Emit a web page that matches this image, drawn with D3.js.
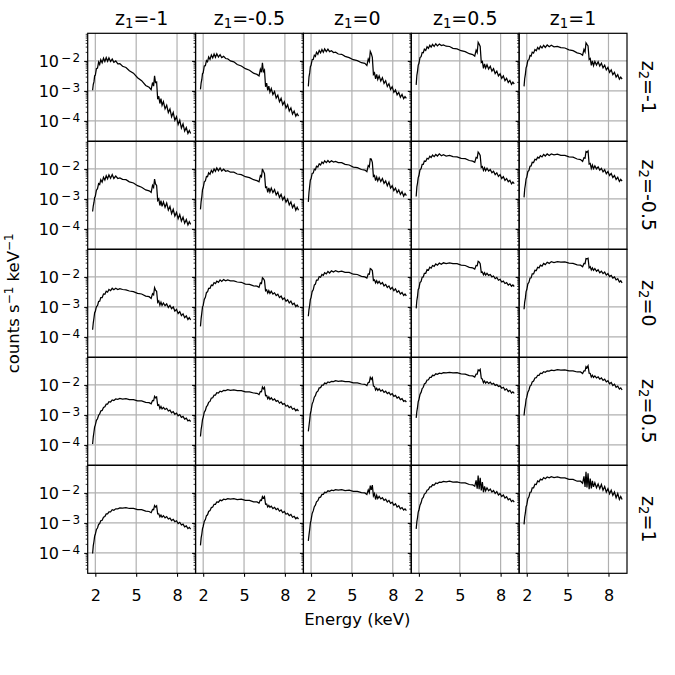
<!DOCTYPE html>
<html>
<head>
<meta charset="utf-8">
<script src="https://cdn.jsdelivr.net/npm/d3@7"></script>
<style>
  body { margin: 0; background: #fff; }
  text { font-family: "DejaVu Sans", sans-serif; fill: #000; }
</style>
</head>
<body>
<div id="chart"></div>
<script>
// energy grid (keV) shared by every spectrum
const energy = [1.80,1.85,1.90,1.95,2.00,2.08,2.16,2.24,2.32,2.40,2.50,2.60,2.70,2.80,2.90,3.00,3.12,3.24,3.36,3.50,
  3.65,3.80,4.00,4.25,4.50,4.80,5.10,5.40,5.70,5.95,6.10,6.20,6.28,6.35,6.42,6.50,6.58,6.66,6.74,6.82,
  6.90,7.00,7.12,7.24,7.36,7.48,7.60,7.72,7.84,7.96,8.08,8.20,8.32,8.44,8.56,8.68,8.80,8.90,9.00];

const z1Labels = ["-1", "-0.5", "0", "0.5", "1"];
const z2Labels = ["-1", "-0.5", "0", "0.5", "1"];
const xTicks = [2, 5, 8];

// log10(counts s^-1 keV^-1), row = z2, col = z1
const logFlux_r0c0 = [-2.98,-2.78,-2.70,-2.50,-2.48,-2.26,-2.24,-2.04,-2.12,-1.96,-2.06,-1.91,-2.02,-1.89,-2.01,-1.90,-2.02,-1.94,-2.05,-2.00,-2.10,-2.09,-2.18,-2.22,-2.33,-2.41,-2.56,-2.66,-2.82,-2.88,-2.96,-2.72,-2.84,-2.50,-2.72,-2.70,-3.28,-3.18,-3.42,-3.26,-3.48,-3.36,-3.60,-3.48,-3.72,-3.60,-3.86,-3.72,-3.98,-3.86,-4.12,-3.98,-4.24,-4.10,-4.34,-4.22,-4.42,-4.32,-4.42];
const logFlux_r0c1 = [-2.95,-2.73,-2.62,-2.42,-2.40,-2.17,-2.16,-1.99,-2.03,-1.87,-1.95,-1.80,-1.90,-1.77,-1.88,-1.76,-1.87,-1.79,-1.89,-1.85,-1.92,-1.93,-2.00,-2.03,-2.12,-2.17,-2.26,-2.31,-2.41,-2.45,-2.50,-2.28,-2.38,-2.06,-2.36,-2.30,-2.86,-2.74,-2.98,-2.84,-3.04,-2.92,-3.12,-3.02,-3.24,-3.14,-3.36,-3.25,-3.46,-3.36,-3.57,-3.46,-3.67,-3.57,-3.77,-3.67,-3.84,-3.76,-3.84];
const logFlux_r0c2 = [-2.85,-2.53,-2.40,-2.19,-2.15,-1.96,-1.95,-1.81,-1.85,-1.71,-1.78,-1.65,-1.73,-1.62,-1.71,-1.60,-1.69,-1.61,-1.69,-1.66,-1.72,-1.71,-1.77,-1.78,-1.85,-1.89,-1.96,-1.99,-2.06,-2.08,-2.15,-1.94,-2.02,-1.68,-1.75,-1.88,-2.45,-2.40,-2.60,-2.45,-2.62,-2.50,-2.67,-2.56,-2.75,-2.66,-2.85,-2.76,-2.95,-2.86,-3.05,-2.97,-3.13,-3.05,-3.21,-3.12,-3.26,-3.19,-3.25];
const logFlux_r0c3 = [-2.80,-2.48,-2.34,-2.14,-2.09,-1.89,-1.86,-1.72,-1.73,-1.61,-1.65,-1.53,-1.58,-1.48,-1.54,-1.45,-1.52,-1.43,-1.50,-1.44,-1.49,-1.47,-1.51,-1.52,-1.58,-1.60,-1.66,-1.69,-1.76,-1.79,-1.84,-1.64,-1.72,-1.38,-1.44,-1.52,-2.05,-2.02,-2.25,-2.10,-2.24,-2.13,-2.27,-2.18,-2.34,-2.26,-2.42,-2.34,-2.50,-2.43,-2.58,-2.50,-2.66,-2.58,-2.72,-2.65,-2.78,-2.71,-2.77];
const logFlux_r0c4 = [-2.85,-2.58,-2.44,-2.23,-2.17,-1.98,-1.96,-1.82,-1.84,-1.71,-1.74,-1.62,-1.66,-1.55,-1.61,-1.51,-1.57,-1.48,-1.55,-1.47,-1.53,-1.48,-1.53,-1.52,-1.56,-1.57,-1.63,-1.66,-1.73,-1.76,-1.81,-1.62,-1.70,-1.40,-1.45,-1.50,-1.95,-1.92,-2.15,-2.00,-2.16,-2.02,-2.14,-2.03,-2.17,-2.08,-2.23,-2.14,-2.30,-2.22,-2.38,-2.30,-2.46,-2.38,-2.54,-2.46,-2.61,-2.54,-2.61];

const logFlux_r1c0 = [-3.42,-3.23,-3.12,-2.95,-2.91,-2.71,-2.66,-2.49,-2.52,-2.36,-2.44,-2.28,-2.37,-2.23,-2.33,-2.20,-2.31,-2.19,-2.32,-2.24,-2.32,-2.30,-2.35,-2.36,-2.43,-2.47,-2.56,-2.61,-2.70,-2.73,-2.78,-2.55,-2.62,-2.34,-2.50,-2.55,-3.05,-3.00,-3.22,-3.06,-3.25,-3.10,-3.28,-3.14,-3.37,-3.25,-3.49,-3.35,-3.57,-3.45,-3.66,-3.52,-3.74,-3.61,-3.81,-3.69,-3.87,-3.76,-3.85];
const logFlux_r1c1 = [-3.35,-3.08,-2.93,-2.69,-2.63,-2.43,-2.40,-2.25,-2.26,-2.13,-2.18,-2.05,-2.12,-2.00,-2.08,-1.97,-2.06,-1.97,-2.07,-2.01,-2.08,-2.06,-2.11,-2.11,-2.17,-2.19,-2.26,-2.29,-2.36,-2.39,-2.43,-2.22,-2.26,-2.00,-2.08,-2.15,-2.62,-2.60,-2.78,-2.63,-2.77,-2.64,-2.79,-2.69,-2.87,-2.77,-2.95,-2.85,-3.03,-2.93,-3.11,-3.01,-3.20,-3.10,-3.29,-3.19,-3.38,-3.28,-3.38];
const logFlux_r1c2 = [-3.10,-2.78,-2.57,-2.37,-2.33,-2.15,-2.14,-2.01,-2.03,-1.91,-1.94,-1.83,-1.87,-1.77,-1.82,-1.73,-1.79,-1.72,-1.78,-1.73,-1.77,-1.75,-1.79,-1.79,-1.85,-1.87,-1.94,-1.96,-2.02,-2.04,-2.09,-1.89,-1.93,-1.66,-1.67,-1.78,-2.25,-2.22,-2.39,-2.27,-2.40,-2.29,-2.42,-2.32,-2.48,-2.40,-2.56,-2.44,-2.64,-2.56,-2.72,-2.64,-2.79,-2.70,-2.85,-2.76,-2.91,-2.82,-2.89];
const logFlux_r1c3 = [-2.92,-2.60,-2.47,-2.29,-2.23,-2.03,-1.99,-1.85,-1.85,-1.74,-1.75,-1.65,-1.67,-1.58,-1.62,-1.54,-1.59,-1.52,-1.57,-1.50,-1.56,-1.53,-1.57,-1.55,-1.59,-1.60,-1.65,-1.66,-1.72,-1.74,-1.78,-1.62,-1.64,-1.44,-1.48,-1.55,-1.95,-1.92,-2.05,-1.96,-2.06,-1.98,-2.07,-2.02,-2.13,-2.08,-2.19,-2.13,-2.25,-2.19,-2.32,-2.26,-2.38,-2.32,-2.43,-2.38,-2.50,-2.44,-2.49];
const logFlux_r1c4 = [-2.95,-2.66,-2.52,-2.33,-2.28,-2.09,-2.05,-1.91,-1.90,-1.78,-1.79,-1.68,-1.70,-1.61,-1.64,-1.56,-1.60,-1.52,-1.57,-1.50,-1.55,-1.50,-1.53,-1.51,-1.55,-1.55,-1.60,-1.61,-1.67,-1.69,-1.75,-1.63,-1.64,-1.42,-1.44,-1.40,-1.84,-1.82,-1.98,-1.87,-1.99,-1.90,-2.00,-1.93,-2.04,-1.98,-2.10,-2.03,-2.16,-2.09,-2.22,-2.15,-2.29,-2.22,-2.35,-2.28,-2.42,-2.35,-2.41];

const logFlux_r2c0 = [-3.76,-3.53,-3.37,-3.19,-3.15,-2.99,-2.96,-2.82,-2.81,-2.69,-2.69,-2.57,-2.58,-2.48,-2.51,-2.42,-2.46,-2.38,-2.43,-2.38,-2.42,-2.39,-2.42,-2.43,-2.47,-2.49,-2.55,-2.57,-2.64,-2.66,-2.72,-2.56,-2.60,-2.36,-2.44,-2.48,-2.85,-2.80,-2.94,-2.84,-2.95,-2.87,-2.96,-2.90,-3.02,-2.95,-3.06,-3.00,-3.14,-3.08,-3.22,-3.16,-3.29,-3.23,-3.36,-3.30,-3.42,-3.36,-3.43];
const logFlux_r2c1 = [-3.65,-3.38,-3.20,-3.00,-2.95,-2.75,-2.68,-2.52,-2.50,-2.38,-2.38,-2.27,-2.29,-2.19,-2.22,-2.14,-2.18,-2.10,-2.15,-2.09,-2.13,-2.10,-2.13,-2.13,-2.17,-2.18,-2.24,-2.25,-2.30,-2.31,-2.35,-2.20,-2.22,-2.03,-2.06,-2.12,-2.46,-2.43,-2.54,-2.46,-2.55,-2.48,-2.57,-2.53,-2.62,-2.58,-2.69,-2.64,-2.75,-2.70,-2.81,-2.76,-2.87,-2.81,-2.92,-2.88,-2.99,-2.94,-3.01];
const logFlux_r2c2 = [-3.31,-3.08,-2.94,-2.75,-2.69,-2.49,-2.43,-2.27,-2.24,-2.11,-2.11,-1.99,-2.01,-1.92,-1.95,-1.86,-1.90,-1.82,-1.87,-1.80,-1.84,-1.79,-1.83,-1.81,-1.85,-1.85,-1.91,-1.92,-1.98,-2.00,-2.04,-1.90,-1.91,-1.72,-1.74,-1.79,-2.12,-2.10,-2.20,-2.13,-2.21,-2.15,-2.24,-2.19,-2.30,-2.25,-2.35,-2.30,-2.41,-2.35,-2.46,-2.40,-2.51,-2.46,-2.57,-2.52,-2.62,-2.57,-2.63];
const logFlux_r2c3 = [-3.05,-2.78,-2.64,-2.42,-2.38,-2.19,-2.15,-2.01,-2.00,-1.88,-1.88,-1.76,-1.78,-1.68,-1.71,-1.62,-1.65,-1.57,-1.61,-1.54,-1.58,-1.53,-1.56,-1.53,-1.56,-1.56,-1.61,-1.62,-1.68,-1.70,-1.74,-1.62,-1.63,-1.48,-1.50,-1.56,-1.85,-1.84,-1.93,-1.86,-1.94,-1.88,-1.95,-1.92,-2.00,-1.97,-2.06,-2.02,-2.11,-2.08,-2.17,-2.14,-2.22,-2.19,-2.27,-2.23,-2.31,-2.27,-2.32];
const logFlux_r2c4 = [-3.08,-2.83,-2.70,-2.49,-2.43,-2.23,-2.18,-2.04,-2.03,-1.90,-1.90,-1.78,-1.79,-1.68,-1.70,-1.61,-1.64,-1.55,-1.59,-1.51,-1.55,-1.49,-1.52,-1.49,-1.51,-1.50,-1.54,-1.55,-1.60,-1.61,-1.66,-1.55,-1.56,-1.39,-1.40,-1.38,-1.70,-1.66,-1.77,-1.70,-1.78,-1.72,-1.81,-1.76,-1.86,-1.81,-1.89,-1.84,-1.94,-1.89,-1.99,-1.95,-2.04,-2.00,-2.10,-2.06,-2.17,-2.13,-2.20];

const logFlux_r3c0 = [-3.97,-3.73,-3.57,-3.40,-3.34,-3.18,-3.13,-3.01,-2.97,-2.87,-2.85,-2.75,-2.73,-2.64,-2.64,-2.56,-2.57,-2.50,-2.52,-2.47,-2.48,-2.45,-2.47,-2.46,-2.49,-2.49,-2.53,-2.53,-2.58,-2.59,-2.63,-2.52,-2.53,-2.38,-2.43,-2.40,-2.68,-2.66,-2.79,-2.72,-2.80,-2.75,-2.82,-2.78,-2.87,-2.84,-2.93,-2.89,-2.98,-2.94,-3.03,-2.99,-3.08,-3.05,-3.14,-3.11,-3.20,-3.17,-3.22];
const logFlux_r3c1 = [-3.72,-3.48,-3.34,-3.16,-3.08,-2.91,-2.85,-2.72,-2.68,-2.58,-2.55,-2.44,-2.43,-2.34,-2.34,-2.26,-2.27,-2.21,-2.23,-2.18,-2.19,-2.16,-2.18,-2.17,-2.19,-2.19,-2.23,-2.23,-2.27,-2.28,-2.32,-2.22,-2.23,-2.07,-2.13,-2.08,-2.36,-2.35,-2.46,-2.40,-2.48,-2.43,-2.51,-2.47,-2.55,-2.52,-2.61,-2.57,-2.65,-2.62,-2.71,-2.68,-2.76,-2.72,-2.81,-2.78,-2.86,-2.82,-2.87];
const logFlux_r3c2 = [-3.55,-3.36,-3.17,-2.96,-2.86,-2.64,-2.55,-2.41,-2.36,-2.25,-2.21,-2.10,-2.09,-2.01,-2.01,-1.94,-1.96,-1.90,-1.92,-1.88,-1.89,-1.86,-1.88,-1.87,-1.89,-1.89,-1.93,-1.93,-1.97,-1.98,-2.02,-1.92,-1.91,-1.75,-1.81,-1.76,-2.04,-2.05,-2.17,-2.11,-2.18,-2.13,-2.21,-2.17,-2.25,-2.21,-2.29,-2.25,-2.33,-2.29,-2.38,-2.35,-2.44,-2.40,-2.49,-2.46,-2.55,-2.52,-2.57];
const logFlux_r3c3 = [-3.10,-2.88,-2.74,-2.56,-2.49,-2.32,-2.25,-2.12,-2.08,-1.97,-1.94,-1.84,-1.83,-1.75,-1.75,-1.68,-1.69,-1.63,-1.65,-1.61,-1.62,-1.59,-1.60,-1.58,-1.60,-1.59,-1.63,-1.64,-1.69,-1.70,-1.74,-1.64,-1.64,-1.50,-1.53,-1.48,-1.78,-1.81,-1.93,-1.87,-1.94,-1.89,-1.95,-1.91,-1.98,-1.95,-2.02,-1.99,-2.05,-2.03,-2.11,-2.08,-2.17,-2.13,-2.22,-2.18,-2.27,-2.23,-2.28];
const logFlux_r3c4 = [-3.02,-2.80,-2.67,-2.48,-2.41,-2.24,-2.17,-2.04,-2.01,-1.90,-1.87,-1.77,-1.76,-1.68,-1.68,-1.61,-1.62,-1.56,-1.58,-1.53,-1.54,-1.51,-1.52,-1.49,-1.51,-1.50,-1.53,-1.53,-1.57,-1.57,-1.62,-1.53,-1.53,-1.39,-1.43,-1.36,-1.61,-1.62,-1.74,-1.68,-1.75,-1.70,-1.77,-1.73,-1.81,-1.77,-1.85,-1.81,-1.90,-1.86,-1.96,-1.92,-2.02,-1.98,-2.08,-2.04,-2.14,-2.10,-2.17];

const logFlux_r4c0 = [-4.02,-3.76,-3.62,-3.44,-3.38,-3.22,-3.17,-3.05,-3.02,-2.93,-2.91,-2.81,-2.79,-2.70,-2.70,-2.63,-2.63,-2.56,-2.58,-2.53,-2.53,-2.50,-2.51,-2.49,-2.52,-2.52,-2.56,-2.56,-2.61,-2.62,-2.66,-2.55,-2.56,-2.42,-2.47,-2.43,-2.70,-2.70,-2.80,-2.74,-2.81,-2.76,-2.83,-2.79,-2.87,-2.84,-2.92,-2.88,-2.96,-2.93,-3.02,-2.98,-3.07,-3.04,-3.13,-3.10,-3.19,-3.15,-3.21];
const logFlux_r4c1 = [-3.75,-3.50,-3.37,-3.19,-3.12,-2.95,-2.89,-2.76,-2.73,-2.62,-2.59,-2.49,-2.47,-2.38,-2.38,-2.30,-2.31,-2.24,-2.26,-2.21,-2.22,-2.19,-2.21,-2.19,-2.22,-2.21,-2.25,-2.25,-2.30,-2.30,-2.34,-2.24,-2.25,-2.12,-2.17,-2.12,-2.38,-2.37,-2.47,-2.42,-2.48,-2.44,-2.52,-2.48,-2.56,-2.52,-2.61,-2.57,-2.66,-2.62,-2.71,-2.68,-2.76,-2.72,-2.81,-2.78,-2.86,-2.82,-2.87];
const logFlux_r4c2 = [-3.60,-3.40,-3.22,-3.01,-2.91,-2.69,-2.60,-2.46,-2.41,-2.30,-2.26,-2.15,-2.14,-2.05,-2.05,-1.98,-1.99,-1.93,-1.95,-1.91,-1.92,-1.89,-1.91,-1.89,-1.92,-1.91,-1.95,-1.95,-1.99,-2.00,-2.05,-1.90,-1.99,-1.76,-1.90,-1.74,-2.10,-2.02,-2.22,-2.08,-2.19,-2.12,-2.20,-2.16,-2.25,-2.21,-2.30,-2.25,-2.35,-2.31,-2.41,-2.36,-2.47,-2.43,-2.53,-2.49,-2.57,-2.53,-2.59];
const logFlux_r4c3 = [-3.20,-2.96,-2.82,-2.64,-2.58,-2.41,-2.33,-2.19,-2.15,-2.04,-2.01,-1.91,-1.89,-1.80,-1.80,-1.73,-1.74,-1.67,-1.69,-1.64,-1.65,-1.62,-1.63,-1.61,-1.64,-1.63,-1.67,-1.67,-1.72,-1.73,-1.78,-1.58,-1.86,-1.42,-1.88,-1.50,-1.92,-1.64,-1.98,-1.78,-1.93,-1.83,-1.93,-1.87,-1.97,-1.92,-2.02,-1.96,-2.07,-2.02,-2.12,-2.07,-2.17,-2.13,-2.23,-2.19,-2.29,-2.25,-2.31];
const logFlux_r4c4 = [-3.05,-2.80,-2.66,-2.46,-2.40,-2.19,-2.13,-1.98,-1.97,-1.83,-1.83,-1.71,-1.72,-1.60,-1.63,-1.54,-1.57,-1.49,-1.53,-1.47,-1.50,-1.46,-1.49,-1.47,-1.50,-1.50,-1.55,-1.55,-1.61,-1.61,-1.68,-1.45,-1.80,-1.30,-1.82,-1.35,-1.88,-1.52,-1.85,-1.60,-1.80,-1.66,-1.83,-1.70,-1.86,-1.72,-1.91,-1.79,-1.97,-1.86,-2.03,-1.91,-2.08,-1.97,-2.16,-2.02,-2.22,-2.12,-2.22];

const spectra = [
  [logFlux_r0c0, logFlux_r0c1, logFlux_r0c2, logFlux_r0c3, logFlux_r0c4],
  [logFlux_r1c0, logFlux_r1c1, logFlux_r1c2, logFlux_r1c3, logFlux_r1c4],
  [logFlux_r2c0, logFlux_r2c1, logFlux_r2c2, logFlux_r2c3, logFlux_r2c4],
  [logFlux_r3c0, logFlux_r3c1, logFlux_r3c2, logFlux_r3c3, logFlux_r3c4],
  [logFlux_r4c0, logFlux_r4c1, logFlux_r4c2, logFlux_r4c3, logFlux_r4c4]
];

const width = 675, height = 675;
const gridLeft = 87.7, gridTop = 33.3, gridRight = 627, gridBottom = 573.3;
const cellW = (gridRight - gridLeft) / 5;
const cellH = (gridBottom - gridTop) / 5;

const svg = d3.select("#chart").append("svg")
  .attr("width", width)
  .attr("height", height)
  .attr("viewBox", [0, 0, width, height]);

const x = d3.scaleLinear().domain([1.44, 9.36]).range([0, cellW]);
const y = d3.scaleLog().domain([Math.pow(10, -4.68), Math.pow(10, -1.08)]).range([cellH, 0]);

const allTicks = y.ticks();
const majorTicks = allTicks.filter(d => Math.abs(Math.log10(d) - Math.round(Math.log10(d))) < 1e-6);
const minorTicks = allTicks.filter(d => !majorTicks.includes(d));

const line = d3.line()
  .x((d, i) => x(energy[i]))
  .y(d => y(Math.pow(10, d)));

svg.append("defs").append("clipPath")
  .attr("id", "cell")
  .append("rect")
  .attr("width", cellW).attr("height", cellH);

spectra.forEach((row, r) => {
  row.forEach((vals, c) => {
    const g = svg.append("g")
      .attr("transform", `translate(${gridLeft + c * cellW},${gridTop + r * cellH})`);

    // grid
    g.append("g").selectAll("line")
      .data(xTicks).join("line")
      .attr("x1", d => x(d)).attr("x2", d => x(d))
      .attr("y1", 0).attr("y2", cellH)
      .attr("stroke", "#b0b0b0").attr("stroke-width", 1.2);
    g.append("g").selectAll("line")
      .data(majorTicks).join("line")
      .attr("x1", 0).attr("x2", cellW)
      .attr("y1", d => y(d)).attr("y2", d => y(d))
      .attr("stroke", "#b0b0b0").attr("stroke-width", 1.2);

    // spectrum
    g.append("path")
      .datum(vals)
      .attr("clip-path", "url(#cell)")
      .attr("fill", "none")
      .attr("stroke", "#000")
      .attr("stroke-width", 1.25)
      .attr("d", line);

    // y ticks
    g.append("g")
      .call(d3.axisLeft(y).tickValues(minorTicks).tickSize(2).tickFormat(""))
      .call(a => a.select(".domain").remove())
      .selectAll("line").attr("stroke-width", 0.8);
    const ya = g.append("g")
      .call(d3.axisLeft(y).tickValues(majorTicks).tickSize(3.5).tickPadding(4).tickFormat(""))
      .call(a => a.select(".domain").remove());
    ya.selectAll("line").attr("stroke-width", 1.1);
    if (c === 0) {
      ya.selectAll(".tick text")
        .attr("font-size", 16)
        .attr("font-family", "DejaVu Sans")
        .attr("dy", "0.36em")
        .each(function(d) {
          const t = d3.select(this);
          t.text("10");
          t.append("tspan")
            .attr("dx", 2).attr("dy", -5.5)
            .attr("font-size", 12)
            .text("\u2212");
          t.append("tspan")
            .attr("dx", 1.5)
            .attr("font-size", 12)
            .text(Math.round(-Math.log10(d)));
        });
    }

    // x ticks on bottom row
    if (r === 4) {
      const xa = g.append("g")
        .attr("transform", `translate(0,${cellH})`)
        .call(d3.axisBottom(x).tickValues(xTicks).tickSize(3.5).tickPadding(13))
        .call(a => a.select(".domain").remove());
      xa.selectAll("line").attr("stroke-width", 1.1);
      xa.selectAll("text").attr("font-size", 16).attr("font-family", "DejaVu Sans");
    }

    // frame
    g.append("rect")
      .attr("width", cellW).attr("height", cellH)
      .attr("fill", "none").attr("stroke", "#000").attr("stroke-width", 1.2);
  });
});

// column titles
z1Labels.forEach((lab, c) => {
  const t = svg.append("text")
    .attr("x", gridLeft + (c + 0.5) * cellW)
    .attr("y", 25)
    .attr("text-anchor", "middle")
    .attr("font-size", 19);
  t.append("tspan").text("z");
  t.append("tspan").attr("font-size", "0.7em").attr("dy", "0.25em").text("1");
  t.append("tspan").attr("dy", "-0.175em").text("=" + lab);
});

// row labels
z2Labels.forEach((lab, r) => {
  const cy = gridTop + (r + 0.5) * cellH;
  const t = svg.append("text")
    .attr("transform", `translate(642,${cy}) rotate(90)`)
    .attr("text-anchor", "middle")
    .attr("font-size", 19);
  t.append("tspan").text("z");
  t.append("tspan").attr("font-size", "0.7em").attr("dy", "0.25em").text("2");
  t.append("tspan").attr("dy", "-0.175em").text("=" + lab);
});

// axis labels
svg.append("text")
  .attr("x", (gridLeft + gridRight) / 2)
  .attr("y", 625)
  .attr("text-anchor", "middle")
  .attr("font-size", 16.5)
  .text("Energy (keV)");

const yl = svg.append("text")
  .attr("transform", `translate(19,${(gridTop + gridBottom) / 2}) rotate(-90)`)
  .attr("text-anchor", "middle")
  .attr("font-size", 16.5);
yl.append("tspan").text("counts s");
yl.append("tspan").attr("font-size", 12).attr("dy", -6).text("\u22121");
yl.append("tspan").attr("dy", 6).text(" keV");
yl.append("tspan").attr("font-size", 12).attr("dy", -6).text("\u22121");
</script>
</body>
</html>
